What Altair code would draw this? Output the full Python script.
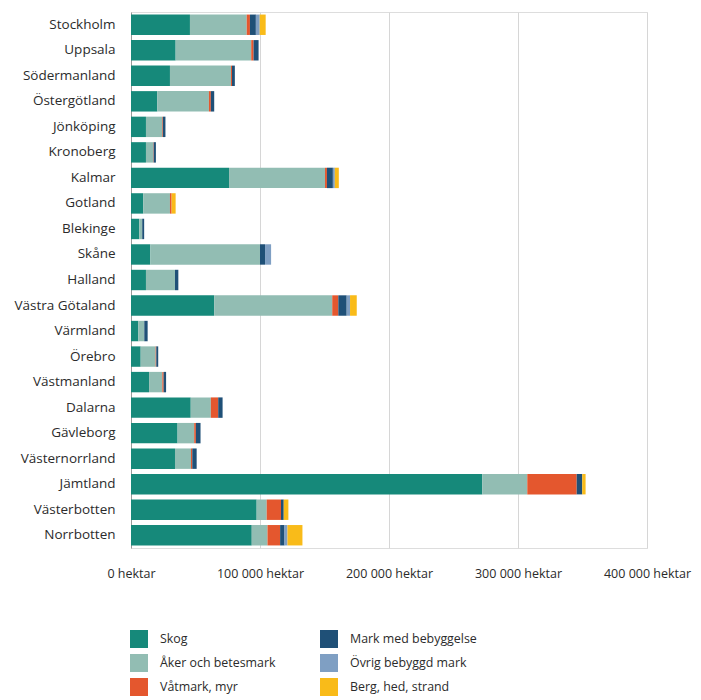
import altair as alt
import pandas as pd

regions = ["Stockholm", "Uppsala", "Södermanland", "Östergötland", "Jönköping",
           "Kronoberg", "Kalmar", "Gotland", "Blekinge", "Skåne", "Halland",
           "Västra Götaland", "Värmland", "Örebro", "Västmanland", "Dalarna",
           "Gävleborg", "Västernorrland", "Jämtland", "Västerbotten", "Norrbotten"]

categories = ["Skog", "Åker och betesmark", "Våtmark, myr",
              "Mark med bebyggelse", "Övrig bebyggd mark", "Berg, hed, strand"]
colors = ["#16897a", "#92bdb3", "#e4572e", "#1f5077", "#7f9fc3", "#f9bb19"]

# hectares, one list per category in region order
skog = [45700, 34600, 30200, 20400, 11600, 11600, 76000, 9500, 6400, 15000, 11600,
        64500, 5700, 7500, 14000, 46300, 36100, 34100, 272300, 97400, 93600]
aker = [44000, 58600, 47300, 40000, 12600, 5700, 74400, 20700, 2300, 85000, 22500,
        91500, 4600, 11600, 10300, 15600, 12900, 12400, 34900, 7800, 12200]
vatmark = [2500, 1800, 800, 1500, 500, 300, 1500, 1300, 0, 0, 0,
           4700, 0, 500, 1000, 5700, 1300, 1000, 38300, 11100, 9800]
bebyggelse = [4600, 3900, 2200, 2600, 2000, 1700, 4600, 0, 1500, 3900, 2600,
              6500, 2600, 1500, 1900, 3400, 3600, 3400, 4300, 2100, 3400]
ovrig = [3000, 0, 0, 0, 0, 0, 1500, 0, 0, 4700, 0,
         2600, 0, 0, 0, 0, 0, 0, 0, 0, 2300]
berg = [4600, 0, 0, 0, 0, 0, 3100, 3100, 0, 0, 0,
        5200, 0, 0, 0, 0, 0, 0, 2600, 3600, 11600]

series = [skog, aker, vatmark, bebyggelse, ovrig, berg]
rows = []
for ci, (cat, vals) in enumerate(zip(categories, series)):
    for r, v in zip(regions, vals):
        rows.append({"region": r, "kategori": cat, "ha": v, "ord": ci})
df = pd.DataFrame(rows)

FONT = "Open Sans"

chart = alt.Chart(df).mark_bar().encode(
    y=alt.Y("region:N", sort=regions, title=None,
            scale=alt.Scale(paddingInner=0.2, paddingOuter=0.1),
            axis=alt.Axis(domain=True, domainColor="#9a9a9a", ticks=False,
                          labelPadding=16, labelFontSize=13.5, labelColor="#2b2b2b",
                          labelFont=FONT)),
    x=alt.X("ha:Q", stack="zero", title=None,
            scale=alt.Scale(domain=[0, 400000], nice=False),
            axis=alt.Axis(values=[0, 100000, 200000, 300000, 400000], domain=False,
                          ticks=False, grid=True, gridColor="#d6d6d6",
                          labelPadding=19, labelFontSize=12.5, labelColor="#2b2b2b",
                          labelFont=FONT, labelFlush=False,
                          labelExpr="datum.value == 0 ? '0 hektar' : format(datum.value / 1000, 'd') + ' 000 hektar'")),
    color=alt.Color("kategori:N",
                    scale=alt.Scale(domain=categories, range=colors),
                    legend=alt.Legend(title=None, orient="none", legendX=-1, legendY=618,
                                      columns=2,
                                      symbolType="square", symbolSize=324,
                                      symbolStrokeWidth=0, symbolOpacity=1,
                                      labelFont=FONT, labelFontSize=12.4,
                                      labelColor="#2b2b2b", labelOffset=12,
                                      rowPadding=6, columnPadding=44)),
    order=alt.Order("ord:Q", sort="ascending"),
).properties(
    width=516, height=536,
    autosize=alt.AutoSizeParams(type="none"),
    padding={"left": 123, "top": 4, "right": 46, "bottom": 152},
).configure_view(stroke=None).configure(font=FONT)

chart.save("out.html", embed_options={"renderer": "svg", "actions": False})
